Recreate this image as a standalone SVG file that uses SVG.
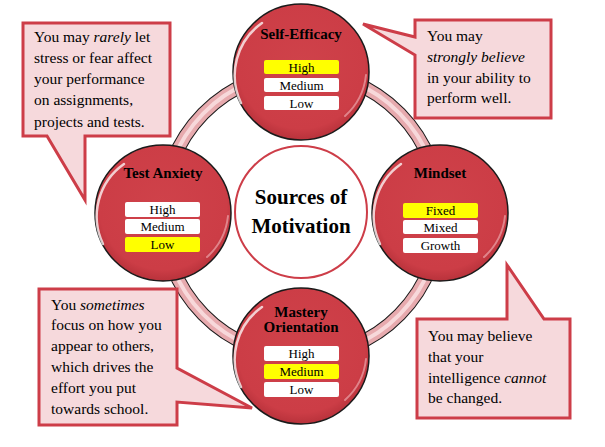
<svg xmlns="http://www.w3.org/2000/svg" width="605" height="447" viewBox="0 0 605 447">
<defs>
<radialGradient id="rg" cx="0.5" cy="0.45" r="0.55">
<stop offset="0" stop-color="#cf424a"/>
<stop offset="0.85" stop-color="#cc3d46"/>
<stop offset="1" stop-color="#b8323b"/>
</radialGradient>
<style>
.node{fill:url(#rg);stroke:#1a1a1a;stroke-width:1.5}
.hl{fill:none;stroke:#ffffff;stroke-width:2.5;stroke-opacity:0.75;stroke-linecap:round}
.hl2{fill:none;stroke:#f2b6ba;stroke-width:2;stroke-opacity:0.6;stroke-linecap:round}
.title{font-family:"Liberation Serif",serif;font-weight:bold;font-size:15px;text-anchor:middle;fill:#000}
.box{fill:#ffffff;stroke:none}
.sel{fill:#ffff00;stroke:none}
.bt{font-family:"Liberation Serif",serif;font-size:13px;text-anchor:middle;fill:#000}
.call{fill:#f6d9dc;stroke:#cd3d48;stroke-width:3;stroke-linejoin:miter}
.ct{font-family:"Liberation Serif",serif;font-size:15.5px;fill:#000}
.ctr{font-family:"Liberation Serif",serif;font-weight:bold;font-size:21px;text-anchor:middle;fill:#000}
</style>
</defs>
<rect width="605" height="447" fill="#ffffff"/>

<g id="connectors">
<ellipse cx="301.5" cy="214" rx="139" ry="142" fill="none" stroke="#1a1a1a" stroke-width="14"/>
<ellipse cx="301.5" cy="214" rx="139" ry="142" fill="none" stroke="#e7aaae" stroke-width="12"/>
<ellipse cx="301.5" cy="214" rx="139" ry="142" fill="none" stroke="#fbe3e5" stroke-width="4" stroke-opacity="0.8"/>
</g>

<g id="center">
<circle cx="301" cy="212" r="66" fill="#ffffff" stroke="#cd3d48" stroke-width="2"/>
<text class="ctr" x="301" y="204">Sources of</text>
<text class="ctr" x="301" y="233">Motivation</text>
</g>

<g id="self-efficacy">
<circle class="node" cx="301" cy="72" r="68"/>
<path class="hl" d="M 241 103 A 64 64 0 0 1 262 23"/>
<path class="hl2" d="M 345 116 A 64 64 0 0 0 366 75"/>
<text class="title" x="301" y="39">Self-Efficacy</text>
<rect class="sel" x="264" y="60" width="75" height="14" rx="2"/>
<text class="bt" x="301.5" y="71.5">High</text>
<rect class="box" x="264" y="78" width="75" height="14" rx="2"/>
<text class="bt" x="301.5" y="89.5">Medium</text>
<rect class="box" x="264" y="96" width="75" height="14" rx="2"/>
<text class="bt" x="301.5" y="107.5">Low</text>
</g>

<g id="mindset">
<circle class="node" cx="440" cy="213" r="68"/>
<path class="hl" d="M 380 244 A 64 64 0 0 1 401 164"/>
<path class="hl2" d="M 484 257 A 64 64 0 0 0 505 216"/>
<text class="title" x="440" y="178">Mindset</text>
<rect class="sel" x="403" y="203" width="75" height="15" rx="2"/>
<text class="bt" x="440.5" y="215">Fixed</text>
<rect class="box" x="403" y="220" width="75" height="14" rx="2"/>
<text class="bt" x="440.5" y="231.5">Mixed</text>
<rect class="box" x="403" y="238" width="75" height="15" rx="2"/>
<text class="bt" x="440.5" y="250">Growth</text>
</g>

<g id="test-anxiety">
<circle class="node" cx="163" cy="213" r="68"/>
<path class="hl" d="M 103 244 A 64 64 0 0 1 124 164"/>
<path class="hl2" d="M 207 257 A 64 64 0 0 0 228 216"/>
<text class="title" x="163" y="178">Test Anxiety</text>
<rect class="box" x="125" y="202" width="75" height="15" rx="2"/>
<text class="bt" x="162.5" y="214">High</text>
<rect class="box" x="125" y="219" width="75" height="15" rx="2"/>
<text class="bt" x="162.5" y="231">Medium</text>
<rect class="sel" x="125" y="237" width="75" height="15" rx="2"/>
<text class="bt" x="162.5" y="249">Low</text>
</g>

<g id="mastery-orientation">
<circle class="node" cx="301" cy="356" r="68"/>
<path class="hl" d="M 241 387 A 64 64 0 0 1 262 307"/>
<path class="hl2" d="M 345 400 A 64 64 0 0 0 366 359"/>
<text class="title" x="301" y="317">Mastery</text>
<text class="title" x="301" y="332">Orientation</text>
<rect class="box" x="264" y="346" width="75" height="15" rx="2"/>
<text class="bt" x="301.5" y="358">High</text>
<rect class="sel" x="264" y="364" width="75" height="15" rx="2"/>
<text class="bt" x="301.5" y="376">Medium</text>
<rect class="box" x="264" y="382" width="75" height="15" rx="2"/>
<text class="bt" x="301.5" y="394">Low</text>
</g>

<g id="callout-test-anxiety">
<path class="call" d="M 23 23 H 170 V 136 H 85 V 200 L 47 136 H 23 Z"/>
<text class="ct" x="34" y="42">You may <tspan font-style="italic">rarely</tspan> let</text>
<text class="ct" x="34" y="63">stress or fear affect</text>
<text class="ct" x="34" y="84">your performance</text>
<text class="ct" x="34" y="105">on assignments,</text>
<text class="ct" x="34" y="127">projects and tests.</text>
</g>

<g id="callout-self-efficacy">
<path class="call" d="M 415 20 H 551 V 118 H 415 V 55 L 363 24 L 415 37 Z"/>
<text class="ct" x="427" y="41">You may</text>
<text class="ct" x="427" y="62" font-style="italic">strongly believe</text>
<text class="ct" x="427" y="83">in your ability to</text>
<text class="ct" x="427" y="103">perform well.</text>
</g>

<g id="callout-mastery">
<path class="call" d="M 39 289 H 177 V 368 L 252 408 L 177 402 V 425 H 39 Z"/>
<text class="ct" x="51" y="310">You <tspan font-style="italic">sometimes</tspan></text>
<text class="ct" x="51" y="330">focus on how you</text>
<text class="ct" x="51" y="351">appear to others,</text>
<text class="ct" x="51" y="372">which drives the</text>
<text class="ct" x="51" y="393">effort you put</text>
<text class="ct" x="51" y="414">towards school.</text>
</g>

<g id="callout-mindset">
<path class="call" d="M 417 319 H 507 V 265 L 544 319 H 570 V 418 H 417 Z"/>
<text class="ct" x="428" y="341">You may believe</text>
<text class="ct" x="428" y="362">that your</text>
<text class="ct" x="428" y="383">intelligence <tspan font-style="italic">cannot</tspan></text>
<text class="ct" x="428" y="403">be changed.</text>
</g>
</svg>
